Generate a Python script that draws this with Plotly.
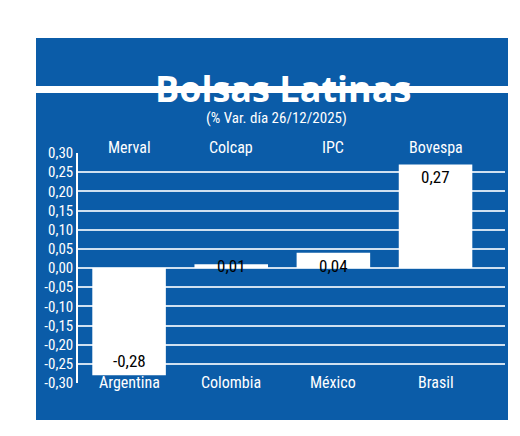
import plotly.graph_objects as go

indices = ["Merval", "Colcap", "IPC", "Bovespa"]
countries = ["Argentina", "Colombia", "México", "Brasil"]
values = [-0.28, 0.01, 0.04, 0.27]
y_ticks = [-0.30, -0.25, -0.20, -0.15, -0.10, -0.05, 0.0, 0.05, 0.10, 0.15, 0.20, 0.25, 0.30]

W, H = 520, 436
BLUE = "#0b5ca8"
FONT = "Liberation Sans Narrow, Roboto Condensed, Roboto, sans-serif"


def px(x):
    return x / W


def py(y):
    return 1 - y / H


fig = go.Figure(go.Bar(
    x=list(range(len(values))), y=values, width=0.72,
    marker=dict(color="white", line=dict(color="white", width=0)),
    hoverinfo="skip",
))

# value labels
for i, v in enumerate(values):
    label = f"{v:.2f}".replace(".", ",")
    if v >= 0:
        fig.add_annotation(x=i, y=max(v, 0.04), text=label, showarrow=False,
                           yanchor="top", yshift=-1,
                           font=dict(family=FONT, size=17, color="black"))
    else:
        fig.add_annotation(x=i, y=v, text=label, showarrow=False,
                           yanchor="bottom", yshift=2,
                           font=dict(family=FONT, size=17, color="black"))

# index names on top, countries at bottom
for i, (name, country) in enumerate(zip(indices, countries)):
    fig.add_annotation(x=i, y=py(128), yref="paper", text=name, showarrow=False,
                       font=dict(family=FONT, size=16, color="white"))
    fig.add_annotation(x=i, y=py(386), yref="paper", text=country, showarrow=False,
                       font=dict(family=FONT, size=16, color="white"))

# panels
fig.add_shape(type="rect", xref="paper", yref="paper", x0=px(28), x1=px(500),
              y0=py(78), y1=py(30), fillcolor=BLUE, line_width=0, layer="below")
fig.add_shape(type="rect", xref="paper", yref="paper", x0=px(28), x1=px(500),
              y0=py(412), y1=py(85), fillcolor=BLUE, line_width=0, layer="below")

fig.add_annotation(x=px(275), y=py(54), xref="paper", yref="paper", text="<b>Bolsas Latinas</b>",
                   showarrow=False, font=dict(family="Open Sans, Liberation Sans, sans-serif", size=36, color="white"))
fig.add_annotation(x=px(268), y=py(99), xref="paper", yref="paper", text="(% Var. día 26/12/2025)",
                   showarrow=False, font=dict(family=FONT, size=15, color="white"))

fig.update_layout(
    width=W, height=H, margin=dict(l=0, r=0, t=0, b=0, autoexpand=False),
    paper_bgcolor="white", plot_bgcolor=BLUE, showlegend=False,
    xaxis=dict(domain=[px(70), px(497)], range=[-0.5, 3.68], visible=False, fixedrange=True),
    yaxis=dict(domain=[py(375), py(145)], range=[-0.30, 0.30], tickvals=y_ticks,
               ticktext=[f"{t:.2f}".replace(".", ",") for t in y_ticks],
               tickfont=dict(family=FONT, size=15, color="white"), automargin=False,
               showgrid=True, gridcolor="#cfe0f0", gridwidth=1.5, zeroline=False,
               showline=True, linecolor="white", linewidth=1.5, ticks="", fixedrange=True),
)

fig.write_html("out.html")
